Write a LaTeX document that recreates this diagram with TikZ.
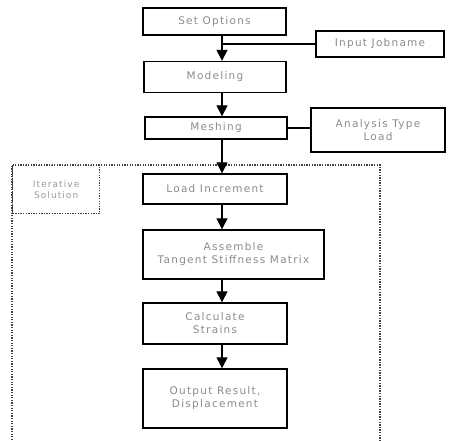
\documentclass[tikz,border=0pt]{standalone}
\usepackage{fontspec}
\setmainfont{DejaVu Sans}[LetterSpace=12]
\usetikzlibrary{arrows.meta}
\begin{document}
\begin{tikzpicture}[x=1pt,y=-1pt,
  stepbox/.style={draw=black, line width=1.4pt, fill=white, align=center, inner sep=0pt, text=black!45, font=\fontsize{10.5}{13}\selectfont},
  dotbox/.style={draw=black!75, line width=1.3pt, dash pattern=on 1.3pt off 1.3pt},
  flow/.style={line width=1.3pt, -{Triangle[width=11pt,length=11pt]}},
  link/.style={line width=1.3pt}]
\useasboundingbox (0,0) rectangle (452,440);
% dotted loop region
\draw[dotbox] (12,440) -- (12,165) -- (380,165) -- (380,440);
\node[dotbox, minimum width=87pt, minimum height=48pt, anchor=north west, inner sep=0pt, align=center, text=black!40, font=\fontsize{9}{11}\selectfont] (loop) at (12,165) {Iterative\\Solution};
% main boxes
\node[stepbox, minimum width=143pt, minimum height=27pt] (opts) at (214.5,21.5) {Set Options};
\node[stepbox, minimum width=128pt, minimum height=26pt] (job) at (380,44) {Input Jobname};
\node[stepbox, minimum width=142pt, minimum height=31pt] (model) at (215,77) {Modeling};
\node[stepbox, minimum width=142pt, minimum height=22pt] (mesh) at (216,128) {Meshing};
\node[stepbox, minimum width=134pt, minimum height=44pt] (ana) at (378,130) {Analysis Type\\Load};
\node[stepbox, minimum width=144pt, minimum height=30pt] (load) at (215,189) {Load Increment};
\node[stepbox, minimum width=181pt, minimum height=49pt] (asm) at (233.5,254.5) {Assemble\\Tangent Stiffness Matrix};
\node[stepbox, minimum width=144pt, minimum height=41pt] (calc) at (215,323.5) {Calculate\\Strains};
\node[stepbox, minimum width=144pt, minimum height=59pt] (out) at (215,398.5) {Output Result,\\Displacement};
% connectors
\coordinate (j) at (222,44);
\draw[link] (job.west) -- (j);
\draw[flow] (opts.south -| j) -- (model.north -| j);
\draw[flow] (model.south -| j) -- (mesh.north -| j);
\draw[link] (mesh.east) -- (ana.west |- mesh.east);
\draw[flow] (mesh.south -| j) -- (load.north -| j);
\draw[flow] (load.south -| j) -- (asm.north -| j);
\draw[flow] (asm.south -| j) -- (calc.north -| j);
\draw[flow] (calc.south -| j) -- (out.north -| j);
\end{tikzpicture}
\end{document}
